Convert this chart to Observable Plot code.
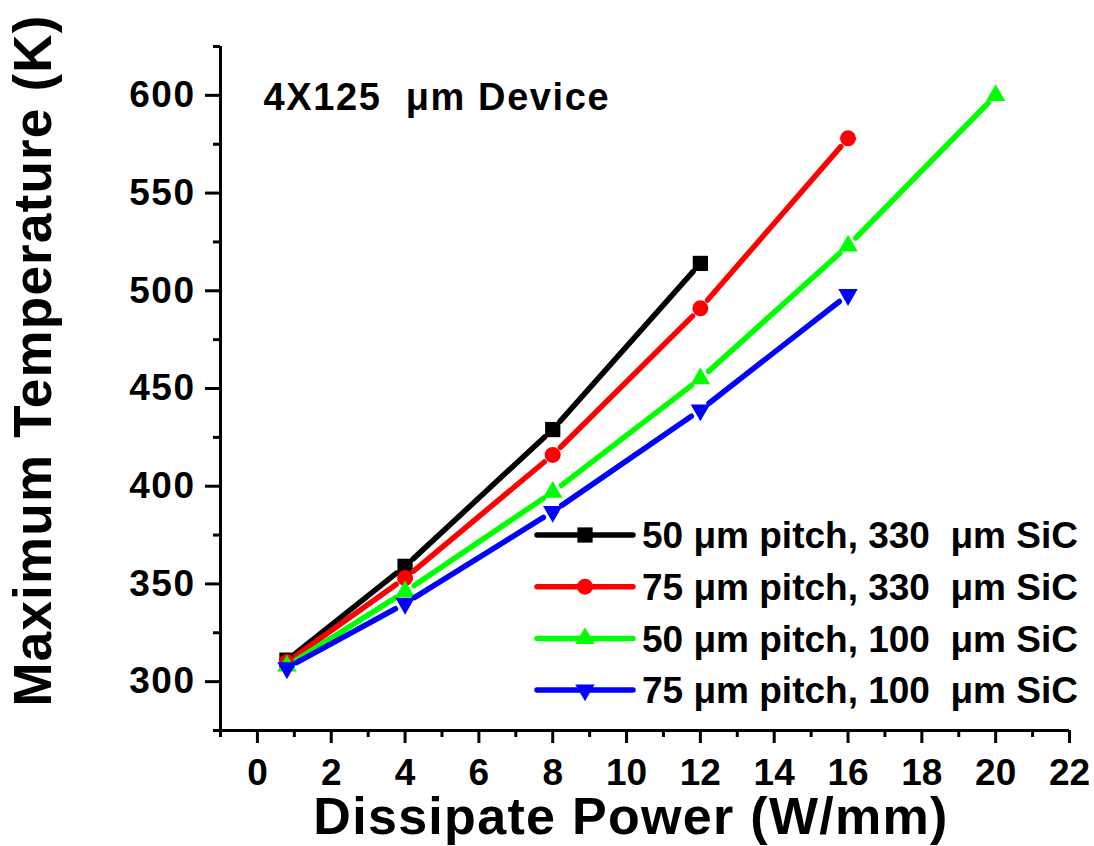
<!DOCTYPE html>
<html><head><meta charset="utf-8">
<script src="https://cdn.jsdelivr.net/npm/d3@7"></script>
<script src="https://cdn.jsdelivr.net/npm/@observablehq/plot@0.6"></script>
<style>
body{margin:0;background:#fff}
svg text{font-family:"Liberation Sans",Arial,sans-serif;font-weight:bold}
</style>
</head><body><div id="chart"></div>
<script>
// ---- data ----
const power = [0.8, 4, 8, 12, 16, 20];
const tempBlack = [311, 359, 429, 514];
const tempRed = [310, 353, 416, 491, 578];
const tempGreen = [308, 346, 397, 455, 523, 600];
const tempBlue = [307, 340, 387, 439, 498];
const seriesNames = [
  "50 μm pitch, 330\u00a0 μm SiC",
  "75 μm pitch, 330\u00a0 μm SiC",
  "50 μm pitch, 100\u00a0 μm SiC",
  "75 μm pitch, 100\u00a0 μm SiC"
];
const seriesColors = ["#000000", "#ff0000", "#00ff00", "#0000ff"];
const xMajorTicks = [0, 2, 4, 6, 8, 10, 12, 14, 16, 18, 20, 22];
const xMinorTicks = [-1, 1, 3, 5, 7, 9, 11, 13, 15, 17, 19, 21];
const yMajorTicks = [300, 350, 400, 450, 500, 550, 600];
const yMinorTicks = [275, 325, 375, 425, 475, 525, 575, 625];
const annotation = "4X125\u00a0 μm Device";
const xTitle = "Dissipate Power (W/mm)";
const yTitle = "Maximum Temperature (K)";

// ---- symbols ----
const sqrt3 = Math.sqrt(3);
const triangleDown = {
  draw(context, size) {
    const y = -Math.sqrt(size / (sqrt3 * 3));
    context.moveTo(0, -y * 2);
    context.lineTo(-sqrt3 * y, y);
    context.lineTo(sqrt3 * y, y);
    context.closePath();
  }
};
const seriesSymbols = ["square", "circle", "triangle", triangleDown];
const d3Symbols = [d3.symbolSquare, d3.symbolCircle, d3.symbolTriangle, triangleDown];
const seriesR = [8.6, 8, 7.2, 7.2];

const temps = [tempBlack, tempRed, tempGreen, tempBlue];
const seriesData = temps.map(arr => arr.map((t, i) => ({x: power[i], y: t})));

const seriesMarks = [];
seriesData.forEach((rows, k) => {
  const pairs = d3.pairs(rows);
  seriesMarks.push(Plot.arrow(pairs, {
    x1: d => d[0].x, y1: d => d[0].y, x2: d => d[1].x, y2: d => d[1].y,
    stroke: seriesColors[k], strokeWidth: 5.5, strokeLinecap: "round",
    headLength: 0, insetStart: 11, insetEnd: 11
  }));
  seriesMarks.push(Plot.dot(rows, {
    x: "x", y: "y", symbol: seriesSymbols[k], r: seriesR[k],
    fill: seriesColors[k], stroke: "none"
  }));
});

const font = '"Liberation Sans", Arial, sans-serif';

const chart = Plot.plot({
  width: 1094, height: 846,
  marginLeft: 220, marginRight: 25, marginTop: 46, marginBottom: 116,
  x: {domain: [-1, 22]},
  y: {domain: [275, 625]},
  style: {fontFamily: font, fontWeight: "bold", background: "white", color: "black"},
  marks: [
    Plot.ruleX([-1], {strokeWidth: 3}),
    Plot.ruleY([275], {strokeWidth: 3}),
    Plot.axisX({ticks: xMinorTicks, tickSize: 7, strokeWidth: 3, tickFormat: () => "", label: null}),
    Plot.axisX({ticks: xMajorTicks, tickSize: 13, tickPadding: 15, strokeWidth: 3, fontSize: 37, fontWeight: "bold", label: null}),
    Plot.axisY({ticks: yMinorTicks, tickSize: 7, strokeWidth: 3, tickFormat: () => "", label: null}),
    Plot.axisY({ticks: yMajorTicks, tickSize: 15, tickPadding: 10, strokeWidth: 3, fontSize: 37, fontWeight: "bold", label: null, className: "ytick"}),
    ...seriesMarks,
    Plot.text([annotation], {text: d => d, frameAnchor: "top-left", dx: 43, dy: 37, lineAnchor: "top", textAnchor: "start", fontSize: 38, fontWeight: "bold", className: "annot"}),
    Plot.text([xTitle], {text: d => d, frameAnchor: "bottom", dx: -14, dy: 67, lineAnchor: "top", textAnchor: "middle", fontSize: 52, fontWeight: "bold", className: "xtitle"}),
    Plot.text([yTitle], {text: d => d, frameAnchor: "left", rotate: -90, dx: -186, dy: -28, textAnchor: "middle", fontSize: 53, fontWeight: "bold", className: "ytitle"})
  ]
});

const svg = d3.select(chart);
svg.selectAll(".annot text").attr("letter-spacing", 1.6);
svg.selectAll(".xtitle text").attr("letter-spacing", 1.3);
svg.selectAll(".ytitle text").attr("letter-spacing", 1.2);
svg.selectAll(".ytick text").attr("letter-spacing", 1.5);

// ---- legend (inside plot, lower right) ----
const lg = svg.append("g").attr("transform", "translate(537,535)");
seriesNames.forEach((name, i) => {
  const row = lg.append("g").attr("transform", `translate(0,${i * 51.7})`);
  row.append("line").attr("x1", 0).attr("x2", 96).attr("y1", 0).attr("y2", 0)
    .attr("stroke", seriesColors[i]).attr("stroke-width", 5.5).attr("stroke-linecap", "round");
  row.append("path")
    .attr("d", d3.symbol(d3Symbols[i], seriesR[i] * seriesR[i] * Math.PI)())
    .attr("transform", "translate(48,0)").attr("fill", seriesColors[i]);
  row.append("text").attr("x", 105).attr("y", 0).attr("dy", "0.36em")
    .attr("text-anchor", "start")
    .attr("font-size", 37).attr("font-weight", "bold").attr("fill", "black")
    .text(name);
});

document.getElementById("chart").appendChild(chart);
</script>
</body></html>
